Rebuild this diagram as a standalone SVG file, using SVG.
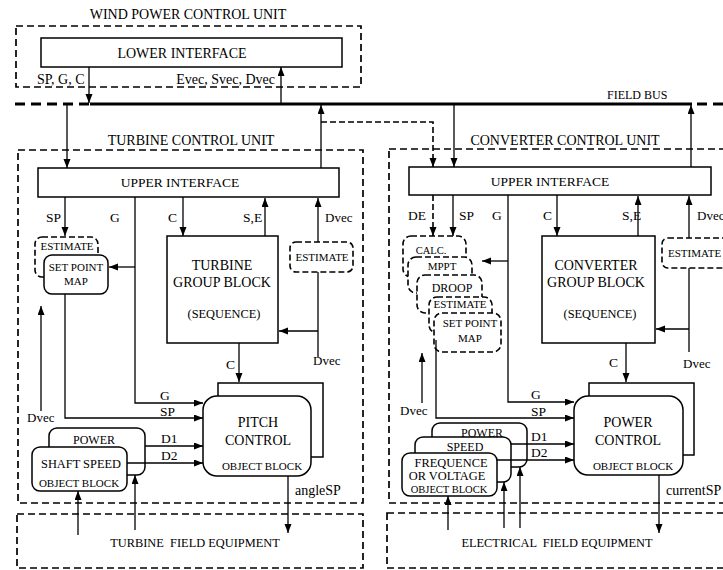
<svg xmlns="http://www.w3.org/2000/svg" width="723" height="570" viewBox="0 0 723 570">
<style>
text{font-family:"Liberation Serif","Times New Roman",serif;fill:#000;white-space:pre}
.t14{font-size:14px}.t135{font-size:13.5px}.t13{font-size:13px}.t125{font-size:12.4px}.t12{font-size:12px}.t11{font-size:11px}.t105{font-size:10.5px}
.m{text-anchor:middle}.e{text-anchor:end}
.box{fill:#fff;stroke:#000;stroke-width:1.5}
.dash{fill:none;stroke:#000;stroke-width:1.7;stroke-dasharray:7,4}
.dbox{fill:#fff;stroke:#000;stroke-width:1.6;stroke-dasharray:6,3}
.ln{fill:none;stroke:#000;stroke-width:1.3}
.dl{fill:none;stroke:#000;stroke-width:1.6;stroke-dasharray:6,3}
</style>
<defs>
<marker id="a" markerUnits="userSpaceOnUse" markerWidth="10" markerHeight="8" refX="9" refY="3.5" orient="auto"><path d="M0,0 L9,3.5 L0,7 z" fill="#000"/></marker>
</defs>
<rect width="723" height="570" fill="#fff"/>

<g id="wind-unit">
<rect class="dash" x="16" y="26" width="345" height="61"/>
<text class="t14 m" x="188" y="19">WIND POWER CONTROL UNIT</text>
</g>
<g id="lower-interface">
<rect class="box" x="41" y="38" width="301" height="29"/>
<text class="t14 m" x="182" y="58">LOWER INTERFACE</text>
</g>
<g id="field-bus">
<line x1="15" y1="104" x2="90" y2="104" stroke="#000" stroke-width="3" stroke-dasharray="10,6"/>
<line x1="90" y1="104" x2="692" y2="104" stroke="#000" stroke-width="3"/>
<line x1="697" y1="104" x2="723" y2="104" stroke="#000" stroke-width="3" stroke-dasharray="10,6"/>
<text class="t12" x="607" y="99">FIELD BUS</text>
</g>

<g id="turbine-unit">
<rect class="dash" x="18" y="150" width="345" height="353"/>
<text class="t14 m" x="191" y="145">TURBINE CONTROL UNIT</text>
</g>
<g id="turbine-upper-interface">
<rect class="box" x="38" y="168" width="301" height="29"/>
<text class="t135 m" x="180" y="187">UPPER INTERFACE</text>
</g>
<g id="turbine-group-block">
<rect class="box" x="167" y="236" width="111" height="107"/>
<text class="t14 m" x="222" y="270">TURBINE</text>
<text class="t14 m" x="222" y="287">GROUP BLOCK</text>
<text class="t125 m" x="224" y="318">(SEQUENCE)</text>
</g>
<g id="turbine-estimate-dvec">
<rect class="dbox" x="290" y="242" width="63" height="30" rx="6"/>
<text class="t11 m" x="322" y="261">ESTIMATE</text>
</g>
<g id="turbine-estimate">
<rect class="dbox" x="35" y="237" width="63" height="40" rx="7"/>
<text class="t11 m" x="67" y="250">ESTIMATE</text>
</g>
<g id="turbine-set-point-map">
<rect class="box" x="44" y="255" width="64" height="39" rx="8"/>
<text class="t11 m" x="76" y="271">SET POINT</text>
<text class="t11 m" x="76" y="285">MAP</text>
</g>
<g id="pitch-control">
<rect class="box" x="218" y="383" width="105" height="74"/>
<rect class="box" x="203" y="396" width="108" height="80" rx="14"/>
<text class="t14 m" x="258" y="427">PITCH</text>
<text class="t14 m" x="258" y="445">CONTROL</text>
<text class="t11 m" x="262" y="470">OBJECT BLOCK</text>
</g>
<g id="turbine-power">
<rect class="box" x="49" y="428" width="96" height="47" rx="8"/>
<text class="t12 m" x="94" y="444">POWER</text>
</g>
<g id="shaft-speed">
<rect class="box" x="32" y="447" width="95" height="44" rx="8"/>
<text class="t125 m" x="81" y="468">SHAFT SPEED</text>
<text class="t11 m" x="79" y="487">OBJECT BLOCK</text>
</g>
<g id="turbine-field-equipment">
<rect class="dash" x="17" y="514" width="346" height="54"/>
<text class="t125 m" x="195" y="547">TURBINE  FIELD EQUIPMENT</text>
</g>

<g id="converter-unit">
<rect class="dash" x="389" y="149" width="360" height="354"/>
<text class="t14 m" x="565" y="145">CONVERTER CONTROL UNIT</text>
</g>
<g id="converter-upper-interface">
<rect class="box" x="409" y="167" width="302" height="28"/>
<text class="t135 m" x="550" y="186">UPPER INTERFACE</text>
</g>
<g id="converter-group-block">
<rect class="box" x="542" y="236" width="113" height="107"/>
<text class="t14 m" x="596" y="270">CONVERTER</text>
<text class="t14 m" x="596" y="287">GROUP BLOCK</text>
<text class="t125 m" x="600" y="318">(SEQUENCE)</text>
</g>
<g id="converter-estimate-dvec">
<rect class="dbox" x="662" y="238" width="75" height="30" rx="6"/>
<text class="t11" x="668" y="257">ESTIMATE</text>
</g>
<g id="calc">
<rect class="dbox" x="403" y="236" width="63" height="41" rx="8"/>
<text class="t105 m" x="431" y="254">CALC.</text>
</g>
<g id="mppt">
<rect class="dbox" x="408" y="257" width="64" height="36" rx="8"/>
<text class="t11 m" x="442" y="270">MPPT</text>
</g>
<g id="droop">
<rect class="dbox" x="417" y="275" width="65" height="38" rx="8"/>
<text class="t12 m" x="452" y="292">DROOP</text>
</g>
<g id="converter-estimate">
<rect class="dbox" x="429" y="297" width="63" height="36" rx="8"/>
<text class="t11 m" x="460" y="308">ESTIMATE</text>
</g>
<g id="converter-set-point-map">
<rect class="dbox" x="434" y="313" width="67" height="39" rx="8"/>
<text class="t11 m" x="470" y="327">SET POINT</text>
<text class="t11 m" x="470" y="342">MAP</text>
</g>
<g id="power-control">
<rect class="box" x="589" y="383" width="105" height="72"/>
<rect class="box" x="574" y="396" width="109" height="79" rx="14"/>
<text class="t14 m" x="628" y="427">POWER</text>
<text class="t14 m" x="628" y="445">CONTROL</text>
<text class="t11 m" x="633" y="470">OBJECT BLOCK</text>
</g>
<g id="converter-power">
<rect class="box" x="432" y="423" width="95" height="44" rx="8"/>
<text class="t12 m" x="482" y="437">POWER</text>
</g>
<g id="converter-speed">
<rect class="box" x="415" y="437" width="96" height="45" rx="8"/>
<text class="t12 m" x="465" y="451">SPEED</text>
</g>
<g id="frequence-voltage">
<rect class="box" x="402" y="453" width="95" height="43" rx="8"/>
<text class="t125 m" x="451" y="467">FREQUENCE</text>
<text class="t125 m" x="447" y="480">OR VOLTAGE</text>
<text class="t105 m" x="449" y="493">OBJECT BLOCK</text>
</g>
<g id="electrical-field-equipment">
<rect class="dash" x="387" y="513" width="350" height="55"/>
<text class="t125 m" x="557" y="547">ELECTRICAL  FIELD EQUIPMENT</text>
</g>

<g id="connectors">
<line class="ln" x1="89" y1="67" x2="89" y2="103" marker-end="url(#a)"/>
<text class="t14" x="37" y="84">SP, G, C</text>
<line class="ln" x1="281" y1="104" x2="281" y2="67" marker-end="url(#a)"/>
<text class="t14 e" x="275" y="84">Evec, Svec, Dvec</text>
<line class="ln" x1="67" y1="104" x2="67" y2="168" marker-end="url(#a)"/>
<line class="ln" x1="321" y1="168" x2="321" y2="105" marker-end="url(#a)"/>
<polyline class="dl" points="321,122 433,122 433,167" marker-end="url(#a)"/>
<line class="ln" x1="454" y1="104" x2="454" y2="167" marker-end="url(#a)"/>
<line class="ln" x1="691" y1="167" x2="691" y2="105" marker-end="url(#a)"/>

<line class="ln" x1="65" y1="197" x2="65" y2="236" marker-end="url(#a)"/>
<text class="t135" x="46" y="222">SP</text>
<text class="t135" x="110" y="222">G</text>
<polyline class="ln" points="135,197 135,403 203,403" marker-end="url(#a)"/>
<line class="ln" x1="135" y1="267" x2="109" y2="267" marker-end="url(#a)"/>
<line class="ln" x1="183" y1="197" x2="183" y2="236" marker-end="url(#a)"/>
<text class="t135" x="168" y="222">C</text>
<line class="ln" x1="265" y1="236" x2="265" y2="198" marker-end="url(#a)"/>
<text class="t135" x="243" y="222">S,E</text>
<line class="ln" x1="318" y1="242" x2="318" y2="198" marker-end="url(#a)"/>
<text class="t13" x="325" y="222">Dvec</text>
<line class="ln" x1="318" y1="272" x2="318" y2="357"/>
<line class="ln" x1="318" y1="331" x2="279" y2="331" marker-end="url(#a)"/>
<text class="t13" x="313" y="365">Dvec</text>
<line class="ln" x1="239" y1="343" x2="239" y2="382" marker-end="url(#a)"/>
<text class="t135" x="226" y="369">C</text>
<line class="ln" x1="288" y1="476" x2="288" y2="533" marker-end="url(#a)"/>
<text class="t14" x="295" y="495">angleSP</text>
<polyline class="ln" points="65,294 65,418 203,418" marker-end="url(#a)"/>
<text class="t135" x="160" y="400">G</text>
<text class="t135" x="160" y="416">SP</text>
<line class="ln" x1="145" y1="446" x2="203" y2="446" marker-end="url(#a)"/>
<text class="t135" x="161" y="443">D1</text>
<line class="ln" x1="127" y1="463" x2="203" y2="463" marker-end="url(#a)"/>
<text class="t135" x="161" y="460">D2</text>
<line class="ln" x1="41" y1="411" x2="41" y2="306" marker-end="url(#a)"/>
<text class="t13" x="27" y="422">Dvec</text>
<line class="ln" x1="78" y1="535" x2="78" y2="491" marker-end="url(#a)"/>
<line class="ln" x1="135" y1="530" x2="135" y2="475" marker-end="url(#a)"/>

<line class="dl" x1="433" y1="195" x2="433" y2="236" marker-end="url(#a)"/>
<text class="t135" x="408" y="220">DE</text>
<line class="ln" x1="453" y1="195" x2="453" y2="236" marker-end="url(#a)"/>
<text class="t135" x="459" y="220">SP</text>
<text class="t135" x="492" y="220">G</text>
<polyline class="ln" points="508,195 508,402 574,402" marker-end="url(#a)"/>
<line class="ln" x1="508" y1="261" x2="482" y2="261" marker-end="url(#a)"/>
<line class="ln" x1="557" y1="195" x2="557" y2="236" marker-end="url(#a)"/>
<text class="t135" x="543" y="220">C</text>
<line class="ln" x1="638" y1="236" x2="638" y2="196" marker-end="url(#a)"/>
<text class="t135" x="622" y="220">S,E</text>
<line class="ln" x1="689" y1="238" x2="689" y2="196" marker-end="url(#a)"/>
<text class="t13" x="697" y="220">Dvec</text>
<line class="ln" x1="689" y1="268" x2="689" y2="352"/>
<line class="ln" x1="689" y1="329" x2="656" y2="329" marker-end="url(#a)"/>
<text class="t13" x="683" y="368">Dvec</text>
<line class="ln" x1="626" y1="343" x2="626" y2="382" marker-end="url(#a)"/>
<text class="t135" x="609" y="367">C</text>
<line class="ln" x1="659" y1="475" x2="659" y2="533" marker-end="url(#a)"/>
<text class="t14" x="666" y="495">currentSP</text>
<polyline class="ln" points="436,340 436,418 574,418" marker-end="url(#a)"/>
<text class="t135" x="531" y="399">G</text>
<text class="t135" x="531" y="416">SP</text>
<line class="ln" x1="511" y1="444" x2="574" y2="444" marker-end="url(#a)"/>
<text class="t135" x="531" y="441">D1</text>
<line class="ln" x1="497" y1="460" x2="574" y2="460" marker-end="url(#a)"/>
<text class="t135" x="531" y="457">D2</text>
<line class="ln" x1="422" y1="403" x2="422" y2="353" marker-end="url(#a)"/>
<text class="t13" x="400" y="415">Dvec</text>
<line class="ln" x1="448" y1="530" x2="448" y2="496" marker-end="url(#a)"/>
<line class="ln" x1="504" y1="528" x2="504" y2="482" marker-end="url(#a)"/>
<line class="ln" x1="520" y1="528" x2="520" y2="467" marker-end="url(#a)"/>
</g>
</svg>
